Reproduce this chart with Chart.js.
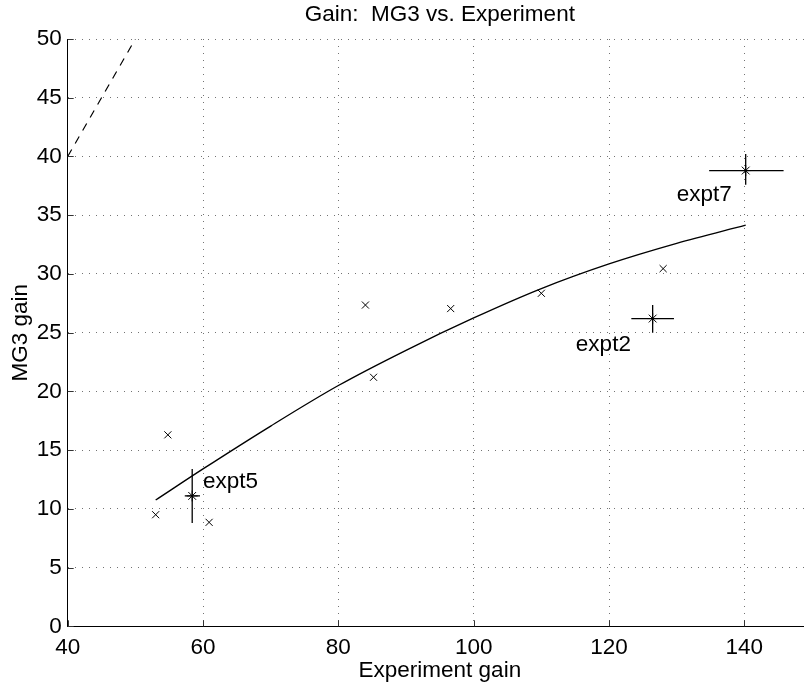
<!DOCTYPE html>
<html>
<head>
<meta charset="utf-8">
<script src="https://cdn.jsdelivr.net/npm/chart.js@4.4.1/dist/chart.umd.min.js"></script>
<style>
  html, body { margin: 0; padding: 0; background: #fff; overflow: hidden; }
  #wrap { width: 804px; height: 685px; overflow: hidden; position: relative; }
  canvas { display: block; }
</style>
</head>
<body>
<div id="wrap"><canvas id="gain-chart" width="820" height="685"></canvas></div>
<script>
// scattered runs (x markers)
const markX = [53.0, 54.8, 60.9, 84.0, 85.2, 96.6, 110.0, 128.0];
const markY = [9.5, 16.3, 8.85, 27.35, 21.2, 27.05, 28.35, 30.45];

// named experiments with error bars
const exptNames = ['expt5', 'expt2', 'expt7'];
const exptX = [58.4, 126.45, 140.2];
const exptY = [11.1, 26.2, 38.8];
const exptXLow = [57.3, 123.3, 134.8];
const exptXHigh = [59.55, 129.6, 145.8];
const exptYLow = [8.8, 25.0, 37.6];
const exptYHigh = [13.4, 27.35, 40.2];
const labelX = [60.0, 115.1, 130.0];
const labelY = [11.8, 23.4, 36.2];

// fitted curve
const fitX = [53, 60, 70, 80, 90, 100, 110, 120, 130, 140.2];
const fitY = [10.75, 13.4, 17.05, 20.5, 23.5, 26.25, 28.75, 30.85, 32.6, 34.15];

// 1:1 reference line
const refX = [40, 50];
const refY = [40, 50];

const xTicks = [40, 60, 80, 100, 120, 140];
const yTicks = [0, 5, 10, 15, 20, 25, 30, 35, 40, 45, 50];

const FONT = "'Liberation Sans', Arial, Helvetica, sans-serif";

function pairs(xs, ys) {
    return xs.map((x, i) => ({ x: x, y: ys[i] }));
}

// error bars, text labels and inward tick marks
const extrasPlugin = {
    id: 'extras',
    afterDatasetsDraw(chart) {
        const ctx = chart.ctx;
        const xs = chart.scales.x;
        const ys = chart.scales.y;
        ctx.save();
        ctx.strokeStyle = '#000';
        ctx.lineWidth = 1.3;
        for (let i = 0; i < exptX.length; i++) {
            const px = xs.getPixelForValue(exptX[i]);
            const py = ys.getPixelForValue(exptY[i]);
            ctx.beginPath();
            ctx.moveTo(xs.getPixelForValue(exptXLow[i]), py);
            ctx.lineTo(xs.getPixelForValue(exptXHigh[i]), py);
            ctx.moveTo(px, ys.getPixelForValue(exptYLow[i]));
            ctx.lineTo(px, ys.getPixelForValue(exptYHigh[i]));
            ctx.stroke();
        }
        ctx.fillStyle = '#000';
        ctx.font = '22.5px ' + FONT;
        ctx.textAlign = 'left';
        ctx.textBaseline = 'alphabetic';
        for (let i = 0; i < exptNames.length; i++) {
            ctx.fillText(exptNames[i], xs.getPixelForValue(labelX[i]), ys.getPixelForValue(labelY[i]));
        }
        // small inward ticks like the original axes
        ctx.strokeStyle = '#333';
        ctx.lineWidth = 1;
        const bottom = chart.chartArea.bottom;
        const left = chart.chartArea.left;
        ctx.beginPath();
        xTicks.forEach(v => {
            const p = Math.round(xs.getPixelForValue(v)) + 0.5;
            ctx.moveTo(p, bottom);
            ctx.lineTo(p, bottom - 6);
        });
        yTicks.forEach(v => {
            const p = Math.round(ys.getPixelForValue(v)) + 0.5;
            ctx.moveTo(left, p);
            ctx.lineTo(left + 6, p);
        });
        ctx.stroke();
        ctx.restore();
    }
};

const ctx = document.getElementById('gain-chart').getContext('2d');
const gainChart = new Chart(ctx, {
    type: 'scatter',
    data: {
        datasets: [
            {
                label: 'fit',
                data: pairs(fitX, fitY),
                showLine: true,
                borderColor: '#000',
                borderWidth: 1.4,
                pointRadius: 0,
                cubicInterpolationMode: 'monotone',
                fill: false
            },
            {
                label: 'one to one',
                data: pairs(refX, refY),
                showLine: true,
                borderColor: '#000',
                borderWidth: 1.2,
                borderDash: [8, 7],
                pointRadius: 0,
                fill: false
            },
            {
                label: 'runs',
                data: pairs(markX, markY),
                pointStyle: 'crossRot',
                pointRadius: 5,
                borderColor: '#000',
                borderWidth: 1,
                backgroundColor: '#000'
            },
            {
                label: 'experiments',
                data: pairs(exptX, exptY),
                pointStyle: 'star',
                pointRadius: 5.5,
                borderColor: '#000',
                borderWidth: 1,
                backgroundColor: '#000'
            }
        ]
    },
    options: {
        responsive: false,
        animation: false,
        devicePixelRatio: 1,
        layout: {
            padding: { left: 0, right: 8, top: 0, bottom: 0 }
        },
        plugins: {
            legend: { display: false },
            tooltip: { enabled: false },
            title: {
                display: true,
                text: 'Gain:  MG3 vs. Experiment',
                fullSize: false,
                color: '#000',
                font: { family: FONT, size: 22.5, weight: 'normal', lineHeight: 1.2 },
                padding: { top: 1, bottom: 11 }
            }
        },
        scales: {
            x: {
                type: 'linear',
                min: 40,
                max: 150,
                afterBuildTicks: function(scale) {
                    scale.ticks = xTicks.map(v => ({ value: v }));
                },
                afterFit: function(scale) {
                    scale.height = 58.7;
                },
                grid: {
                    color: 'rgba(0,0,0,0.55)',
                    lineWidth: 1,
                    drawTicks: false
                },
                border: { display: true, color: '#000', width: 1, dash: [1, 6] },
                ticks: {
                    color: '#000',
                    padding: 8,
                    maxRotation: 0,
                    font: { family: FONT, size: 22.5 }
                },
                title: {
                    display: true,
                    text: 'Experiment gain',
                    color: '#000',
                    font: { family: FONT, size: 22.5 },
                    padding: { top: 0, bottom: 1 }
                }
            },
            y: {
                type: 'linear',
                min: 0,
                max: 50,
                afterBuildTicks: function(scale) {
                    scale.ticks = yTicks.map(v => ({ value: v }));
                },
                afterFit: function(scale) {
                    scale.width = 67.7;
                },
                grid: {
                    color: 'rgba(0,0,0,0.55)',
                    lineWidth: 1,
                    drawTicks: false
                },
                border: { display: true, color: '#000', width: 1, dash: [1, 6] },
                ticks: {
                    color: '#000',
                    padding: 6,
                    font: { family: FONT, size: 22.5 }
                },
                title: {
                    display: true,
                    text: 'MG3 gain',
                    color: '#000',
                    font: { family: FONT, size: 22.5 },
                    padding: { top: 7.5, bottom: 0 }
                }
            }
        }
    },
    plugins: [extrasPlugin]
});
</script>
</body>
</html>
